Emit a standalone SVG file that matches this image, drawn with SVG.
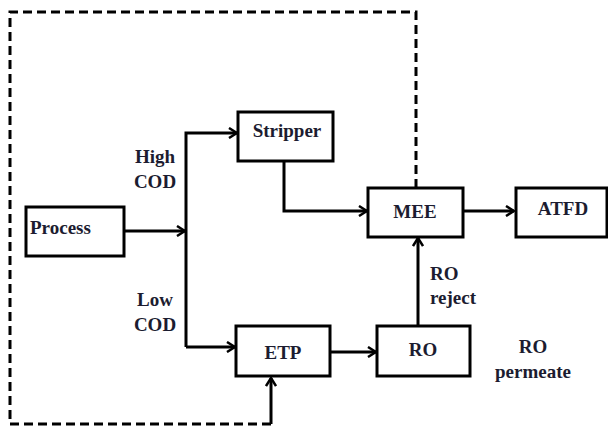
<svg xmlns="http://www.w3.org/2000/svg" width="608" height="427" viewBox="0 0 608 427">
<defs>
<marker id="arr" viewBox="0 0 12 12" refX="11" refY="6" markerWidth="12" markerHeight="12" markerUnits="userSpaceOnUse" orient="auto">
<path d="M3,1 L11,6 L3,11" fill="none" stroke="#000" stroke-width="2.5"/>
</marker>
</defs>
<style>
.box{fill:#fff;stroke:#000;stroke-width:3}
.ln{fill:none;stroke:#000;stroke-width:3}
.dash{fill:none;stroke:#000;stroke-width:3;stroke-dasharray:9,5}
text{font-family:"Liberation Serif","Times New Roman",serif;font-weight:bold;font-size:19px;fill:#1c1c30}
</style>
<rect width="608" height="427" fill="#fff"/>
<g id="connectors">
<path class="dash" d="M416,188 V12 H10 V424 H271"/>
<path class="ln" d="M271,424 V378" marker-end="url(#arr)"/>
<path class="ln" d="M124,231 H185" marker-end="url(#arr)"/>
<path class="ln" d="M186,347 V133 H237" marker-end="url(#arr)"/>
<path class="ln" d="M186,347 H235" marker-end="url(#arr)"/>
<path class="ln" d="M284,161 V211 H367" marker-end="url(#arr)"/>
<path class="ln" d="M463,211 H514" marker-end="url(#arr)"/>
<path class="ln" d="M330,352 H376" marker-end="url(#arr)"/>
<path class="ln" d="M418,326 V238" marker-end="url(#arr)"/>
</g>
<g id="process"><rect class="box" x="26" y="207" width="98" height="49"/><text x="30" y="234">Process</text></g>
<g id="stripper"><rect class="box" x="238" y="112" width="95" height="49"/><text x="287" y="137" text-anchor="middle">Stripper</text></g>
<g id="mee"><rect class="box" x="368" y="188" width="95" height="49"/><text x="415" y="218" text-anchor="middle">MEE</text></g>
<g id="atfd"><rect class="box" x="516" y="188" width="91" height="49"/><text x="563" y="215" text-anchor="middle">ATFD</text></g>
<g id="etp"><rect class="box" x="236" y="326" width="94" height="50"/><text x="283" y="359" text-anchor="middle">ETP</text></g>
<g id="ro"><rect class="box" x="377" y="326" width="93" height="50"/><text x="423" y="356" text-anchor="middle">RO</text></g>
<g id="labels">
<text x="155" y="163" text-anchor="middle">High</text>
<text x="155" y="188" text-anchor="middle">COD</text>
<text x="155" y="306" text-anchor="middle">Low</text>
<text x="155" y="331" text-anchor="middle">COD</text>
<text x="430" y="280">RO</text>
<text x="430" y="304">reject</text>
<text x="533" y="353" text-anchor="middle">RO</text>
<text x="533" y="378" text-anchor="middle">permeate</text>
</g>
</svg>
